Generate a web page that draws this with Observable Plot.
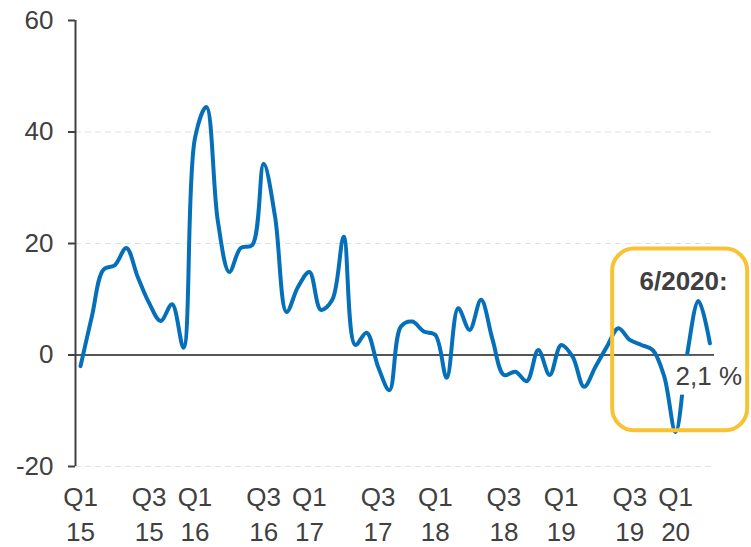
<!DOCTYPE html>
<html><head><meta charset="utf-8">
<script src="https://cdn.jsdelivr.net/npm/d3@7"></script>
<script src="https://cdn.jsdelivr.net/npm/@observablehq/plot@0.6"></script>
<style>body{margin:0;background:#fff} #chart svg{display:block}</style>
</head><body><div id="chart"></div>
<script>
// Growth rate, %, per period
const values = [-2.0, 7.0, 15.3, 16.1, 19.2, 14.0, 9.3, 6.1, 9.1, 1.3,
  38.9, 44.5, 24.0, 14.9, 19.2, 19.7, 34.3, 24.8, 7.7, 12.2,
  14.9, 8.1, 9.9, 21.2, 1.8, 4.0, -2.1, -6.3, 5.1, 6.0,
  4.2, 3.6, -4.1, 8.4, 4.5, 9.9, 2.8, -3.6, -3.0, -4.7,
  0.9, -3.6, 1.8, -0.3, -5.7, -2.1, 1.5, 4.8, 2.7, 1.8,
  0.9, -3.8, -13.8, 0.0, 9.7, 2.1];
const tickIndex = [0, 6, 10, 16, 20, 26, 31, 37, 42, 48, 52];
const quarterLabels = ["Q1","Q3","Q1","Q3","Q1","Q3","Q1","Q3","Q1","Q3","Q1"];
const yearLabels = ["15","15","16","16","17","17","18","18","19","19","20"];
const yTicks = [-20, 0, 20, 40, 60];
const gridValues = [-20, 20, 40];
const calloutTitle = "6/2020:";
const calloutValue = "2,1 %";
// callout frame / label placement in data units
const calloutFrame = [{x1: 46.5, x2: 58.3, y1: -13.6, y2: 19.0}];
const valueBox = [{x1: 51.75, x2: 58.1, y1: -7.2, y2: -0.25}];
const titlePos = [{x: 52.7, y: 13.1, t: calloutTitle}];
const valuePos = [{x: 54.9, y: -3.8, t: calloutValue}];

const data = values.map((v, i) => ({i, v}));
const xDomain = [-0.44, 55.4];
const qMap = new Map(tickIndex.map((t, k) => [t, quarterLabels[k]]));
const yMap = new Map(tickIndex.map((t, k) => [t, yearLabels[k]]));
const ink = "#404040";
const fs = 26;

const chart = Plot.plot({
  width: 751,
  height: 547,
  marginLeft: 75,
  marginRight: 37,
  marginTop: 20,
  marginBottom: 81,
  style: {fontFamily: "'Liberation Sans', Arial, sans-serif", fontSize: fs + "px", color: ink, background: "#fff"},
  x: {domain: xDomain, axis: null},
  y: {domain: [-20, 60], axis: null},
  marks: [
    Plot.ruleY(gridValues, {stroke: "#dfe1ea", strokeDasharray: "6,4", strokeWidth: 1}),
    Plot.ruleY([0], {stroke: "#555", strokeWidth: 2}),
    Plot.ruleX([xDomain[0]], {y1: -20, y2: 60, stroke: ink, strokeWidth: 2}),
    Plot.axisY({ticks: yTicks, tickSize: 7, tickPadding: 15, strokeWidth: 2, fontSize: fs, fill: ink, tickFormat: d => String(d)}),
    Plot.axisX({ticks: tickIndex, tickSize: 0, tickPadding: 21, fontSize: fs, fill: ink, tickFormat: d => qMap.get(d)}),
    Plot.axisX({ticks: tickIndex, tickSize: 0, tickPadding: 56, fontSize: fs, fill: ink, tickFormat: d => yMap.get(d)}),
    Plot.line(data, {x: "i", y: "v", curve: "catmull-rom", stroke: "#0570B9", strokeWidth: 4, strokeLinejoin: "round", strokeLinecap: "round"}),
    Plot.rect(calloutFrame, {x1: "x1", x2: "x2", y1: "y1", y2: "y2", rx: 22, fill: "none", stroke: "#F9C232", strokeWidth: 4}),
    Plot.rect(valueBox, {x1: "x1", x2: "x2", y1: "y1", y2: "y2", fill: "#fff"}),
    Plot.text(titlePos, {x: "x", y: "y", text: "t", fontSize: fs, fontWeight: "bold", fill: ink}),
    Plot.text(valuePos, {x: "x", y: "y", text: "t", fontSize: fs, fill: ink})
  ]
});
document.getElementById("chart").appendChild(chart);
</script>
</body></html>
